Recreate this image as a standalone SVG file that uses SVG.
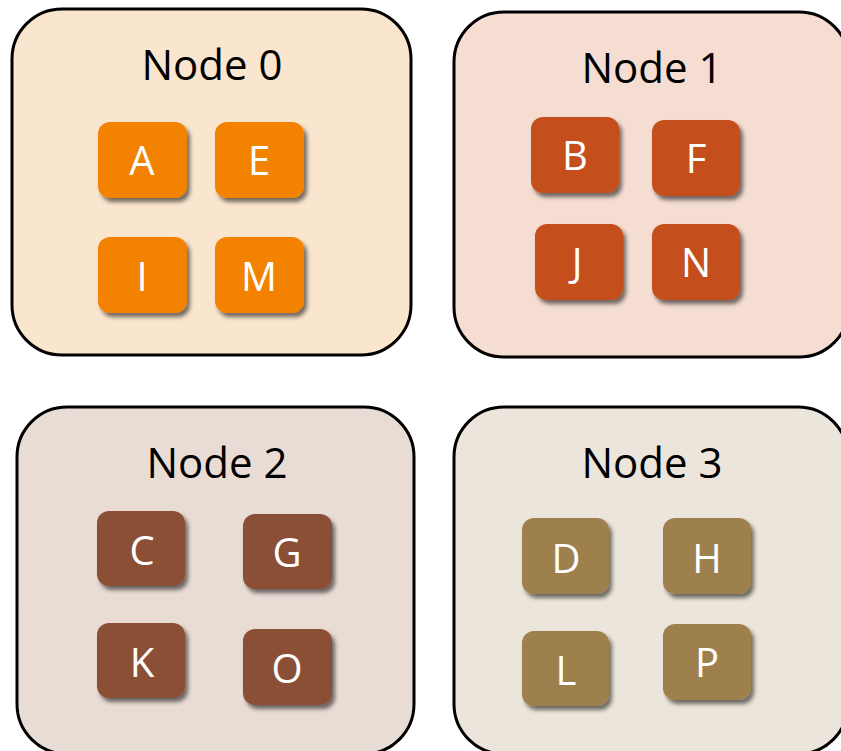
<svg xmlns="http://www.w3.org/2000/svg" width="841" height="751" viewBox="0 0 841 751">
  <defs>
    <filter id="shadow" x="-20%" y="-20%" width="150%" height="150%">
      <feDropShadow dx="3" dy="4" stdDeviation="2.2" flood-color="#000" flood-opacity="0.55"/>
    </filter>
  </defs>
  <style>
    .node { stroke: #000; stroke-width: 3; }
    .title { font-family: "Open Sans", "Noto Sans", sans-serif; font-size: 42px; fill: #000; text-anchor: middle; }
    .task { filter: url(#shadow); }
    .letter { font-family: "Open Sans", "Noto Sans", sans-serif; font-size: 40px; fill: #fff; text-anchor: middle; }
    .n0 { fill: #FAE6CE; }
    .n1 { fill: #F5DDD2; }
    .n2 { fill: #E9DCD5; }
    .n3 { fill: #ECE5DB; }
    .t0 { fill: #F28200; }
    .t1 { fill: #C5501C; }
    .t2 { fill: #8B4F35; }
    .t3 { fill: #9D804C; }
  </style>
  <rect width="841" height="751" fill="#fff"/>

  <!-- Node 0 -->
  <g id="node0">
    <rect class="node n0" x="12" y="9" width="399" height="346" rx="50"/>
    <text class="title" x="212" y="80">Node 0</text>
    <g id="taskA"><rect class="task t0" x="98" y="122" width="89" height="76" rx="12"/><text class="letter" x="142" y="175">A</text></g>
    <g id="taskE"><rect class="task t0" x="215" y="122" width="89" height="76" rx="12"/><text class="letter" x="259" y="175">E</text></g>
    <g id="taskI"><rect class="task t0" x="98" y="237" width="89" height="76" rx="12"/><text class="letter" x="142" y="291">I</text></g>
    <g id="taskM"><rect class="task t0" x="215" y="237" width="89" height="76" rx="12"/><text class="letter" x="259" y="291">M</text></g>
  </g>

  <!-- Node 1 -->
  <g id="node1">
    <rect class="node n1" x="454" y="12" width="395" height="345" rx="50"/>
    <text class="title" x="652" y="83">Node 1</text>
    <g id="taskB"><rect class="task t1" x="531" y="117" width="88" height="76" rx="12"/><text class="letter" x="575" y="170">B</text></g>
    <g id="taskF"><rect class="task t1" x="652" y="120" width="88" height="76" rx="12"/><text class="letter" x="696" y="173">F</text></g>
    <g id="taskJ"><rect class="task t1" x="535" y="224" width="88" height="76" rx="12"/><text class="letter" x="577" y="277">J</text></g>
    <g id="taskN"><rect class="task t1" x="652" y="224" width="88" height="76" rx="12"/><text class="letter" x="696" y="277">N</text></g>
  </g>

  <!-- Node 2 -->
  <g id="node2">
    <rect class="node n2" x="17" y="407" width="397" height="347" rx="50"/>
    <text class="title" x="217" y="478">Node 2</text>
    <g id="taskC"><rect class="task t2" x="97" y="511" width="88" height="75" rx="12"/><text class="letter" x="142" y="565">C</text></g>
    <g id="taskG"><rect class="task t2" x="243" y="514" width="89" height="75" rx="12"/><text class="letter" x="287" y="567">G</text></g>
    <g id="taskK"><rect class="task t2" x="97" y="623" width="88" height="75" rx="12"/><text class="letter" x="142" y="677">K</text></g>
    <g id="taskO"><rect class="task t2" x="243" y="629" width="89" height="76" rx="12"/><text class="letter" x="287" y="683">O</text></g>
  </g>

  <!-- Node 3 -->
  <g id="node3">
    <rect class="node n3" x="454" y="407" width="394" height="347" rx="50"/>
    <text class="title" x="652" y="478">Node 3</text>
    <g id="taskD"><rect class="task t3" x="522" y="518" width="87" height="76" rx="12"/><text class="letter" x="566" y="573">D</text></g>
    <g id="taskH"><rect class="task t3" x="663" y="518" width="88" height="76" rx="12"/><text class="letter" x="707" y="573">H</text></g>
    <g id="taskL"><rect class="task t3" x="522" y="631" width="87" height="75" rx="12"/><text class="letter" x="566" y="685">L</text></g>
    <g id="taskP"><rect class="task t3" x="663" y="624" width="88" height="76" rx="12"/><text class="letter" x="707" y="677">P</text></g>
  </g>

  <!-- no connectors in this layout -->
  <g id="connectors"/>
</svg>
